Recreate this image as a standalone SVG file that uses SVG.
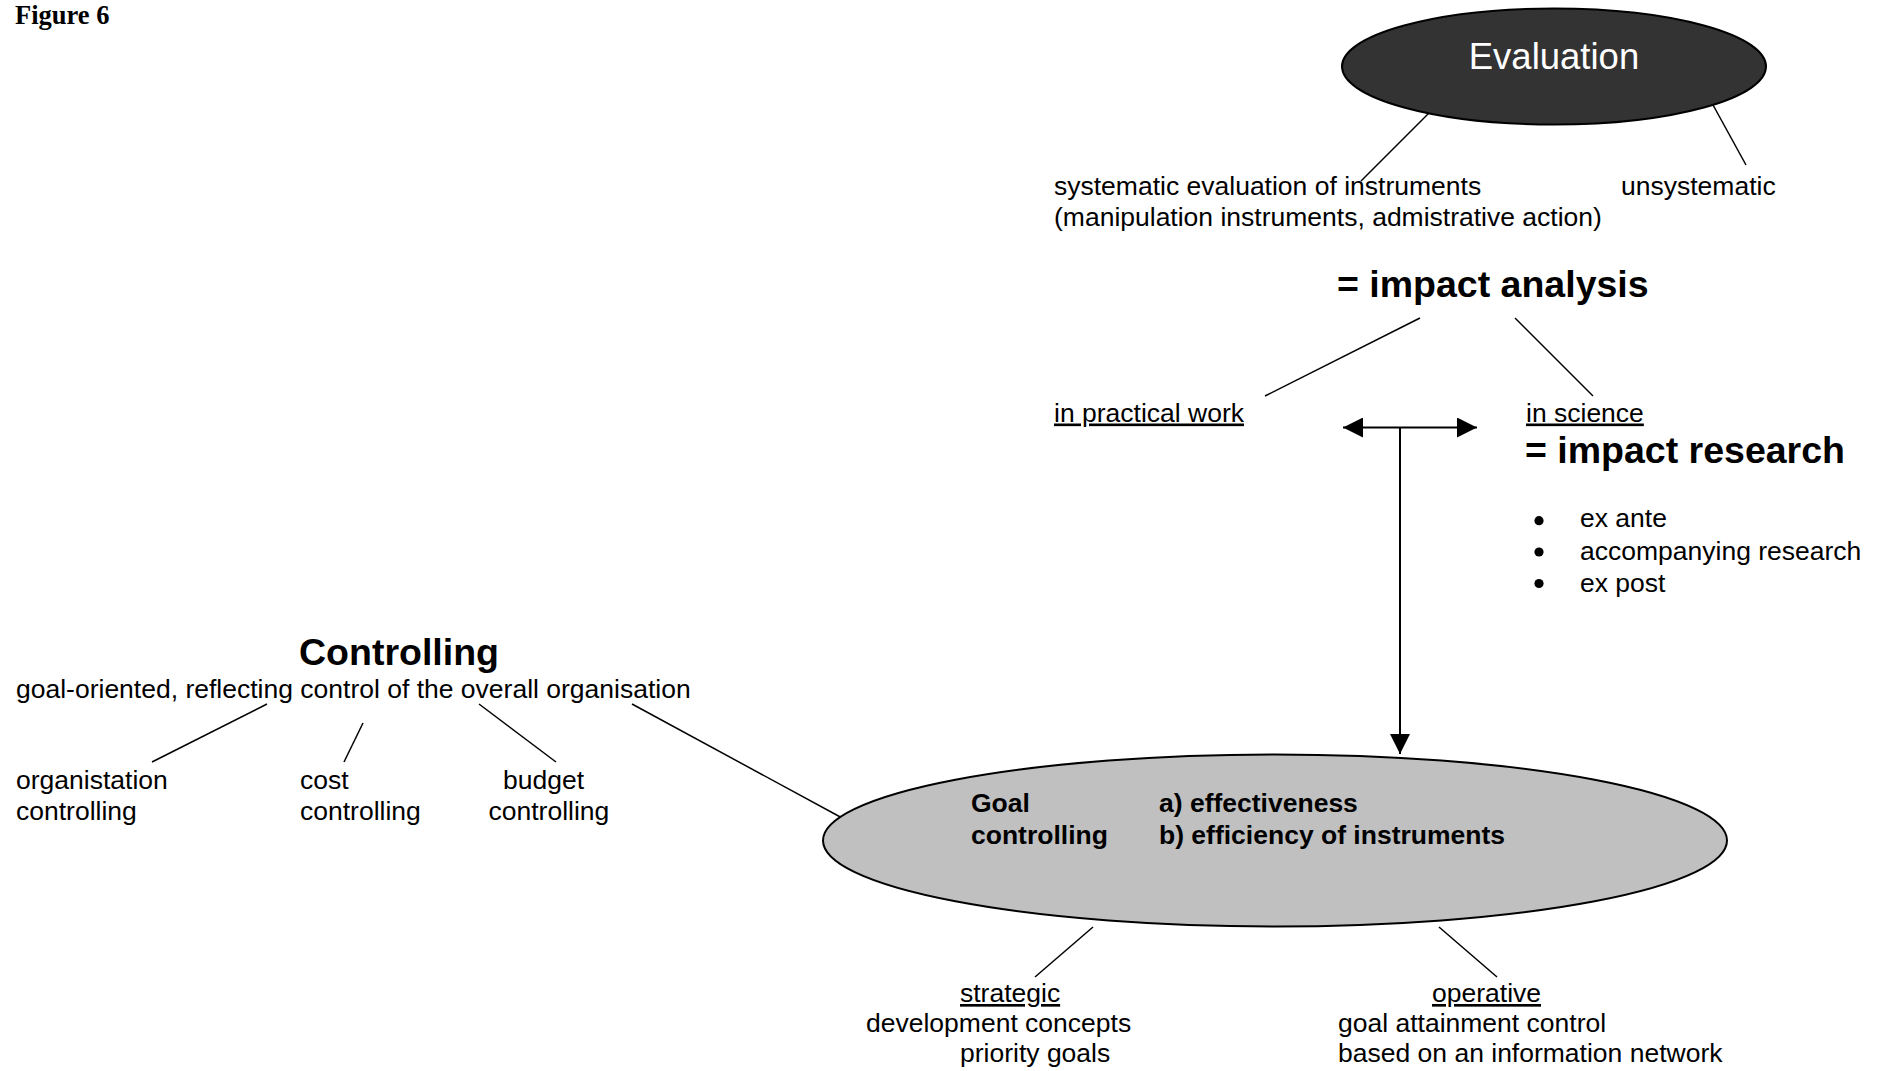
<svg xmlns="http://www.w3.org/2000/svg" width="1879" height="1071" viewBox="0 0 1879 1071">
<style>
  text { font-family: "Liberation Sans", Arial, sans-serif; fill: #000; }
  .n { font-size: 26.5px; }
  .b { font-size: 26.5px; font-weight: bold; }
  .h { font-size: 37.5px; font-weight: bold; }
  .u { text-decoration: underline; }
  .ln { stroke: #000; stroke-width: 1.5; fill: none; }
  .ar { stroke: #000; stroke-width: 2; fill: none; }
</style>
<defs>
  <marker id="ah" viewBox="0 0 20 20" refX="20" refY="10" markerWidth="20" markerHeight="20" markerUnits="userSpaceOnUse" orient="auto">
    <path d="M0,0 L20,10 L0,20 Z" fill="#000"/>
  </marker>
</defs>
<rect width="1879" height="1071" fill="#fff"/>

<text id="title" x="15" y="24" style="font-family:'Liberation Serif','Times New Roman',serif;font-size:26.5px;font-weight:bold">Figure 6</text>

<g id="connectors">
  <line class="ln" x1="1438" y1="104" x2="1361" y2="181"/>
  <line class="ln" x1="1707" y1="94" x2="1746" y2="165"/>
  <line class="ln" x1="1420" y1="318" x2="1265" y2="396"/>
  <line class="ln" x1="1515" y1="318" x2="1593" y2="396"/>
  <line class="ar" x1="1400" y1="427.5" x2="1343" y2="427.5" marker-end="url(#ah)"/>
  <line class="ar" x1="1400" y1="427.5" x2="1477" y2="427.5" marker-end="url(#ah)"/>
  <line class="ar" x1="1400" y1="427.5" x2="1400" y2="754" marker-end="url(#ah)"/>
  <line class="ln" x1="267" y1="704" x2="152" y2="762"/>
  <line class="ln" x1="363" y1="723" x2="344" y2="762"/>
  <line class="ln" x1="479" y1="704" x2="556" y2="762"/>
  <line class="ln" x1="632" y1="704" x2="844" y2="819"/>
  <line class="ln" x1="1093" y1="927" x2="1035" y2="977"/>
  <line class="ln" x1="1439" y1="927" x2="1497" y2="977"/>
</g>

<g id="evaluation">
  <ellipse cx="1554" cy="66.5" rx="212" ry="58" fill="#333333" stroke="#000" stroke-width="2"/>
  <text x="1554" y="69" text-anchor="middle" style="font-size:36.5px;fill:#fff">Evaluation</text>
</g>

<g id="systematic">
  <text class="n" x="1054" y="195">systematic evaluation of instruments</text>
  <text class="n" x="1054" y="226">(manipulation instruments, admistrative action)</text>
</g>

<g id="unsystematic">
  <text class="n" x="1621" y="195">unsystematic</text>
</g>

<g id="impact-analysis">
  <text class="h" x="1337" y="297">= impact analysis</text>
</g>

<g id="practical-work">
  <text class="n u" x="1054" y="421.5">in practical work</text>
</g>

<g id="science">
  <text class="n u" x="1526" y="421.5">in science</text>
  <text class="h" x="1525" y="463">= impact research</text>
  <circle cx="1539" cy="520.7" r="4.6"/>
  <circle cx="1539" cy="552" r="4.6"/>
  <circle cx="1539" cy="583.5" r="4.6"/>
  <text class="n" x="1580" y="527.3">ex ante</text>
  <text class="n" x="1580" y="559.5">accompanying research</text>
  <text class="n" x="1580" y="591.7">ex post</text>
</g>

<g id="controlling">
  <text class="h" x="299" y="665">Controlling</text>
  <text class="n" x="16" y="698">goal-oriented, reflecting control of the overall organisation</text>
</g>

<g id="organisation-controlling">
  <text class="n" x="16" y="789">organistation</text>
  <text class="n" x="16" y="820">controlling</text>
</g>

<g id="cost-controlling">
  <text class="n" x="300" y="789">cost</text>
  <text class="n" x="300" y="820">controlling</text>
</g>

<g id="budget-controlling">
  <text class="n" x="503" y="789">budget</text>
  <text class="n" x="488.5" y="820">controlling</text>
</g>

<g id="goal-controlling">
  <ellipse cx="1275" cy="840.5" rx="452" ry="86" fill="#c0c0c0" stroke="#000" stroke-width="2"/>
  <text class="b" x="971" y="812">Goal</text>
  <text class="b" x="971" y="844">controlling</text>
  <text class="b" x="1159" y="812">a) effectiveness</text>
  <text class="b" x="1159" y="844">b) efficiency of instruments</text>
</g>

<g id="strategic">
  <text class="n u" x="960" y="1002">strategic</text>
  <text class="n" x="866" y="1032">development concepts</text>
  <text class="n" x="960" y="1062">priority goals</text>
</g>

<g id="operative">
  <text class="n u" x="1432" y="1002">operative</text>
  <text class="n" x="1338" y="1032">goal attainment control</text>
  <text class="n" x="1338" y="1062">based on an information network</text>
</g>
</svg>
